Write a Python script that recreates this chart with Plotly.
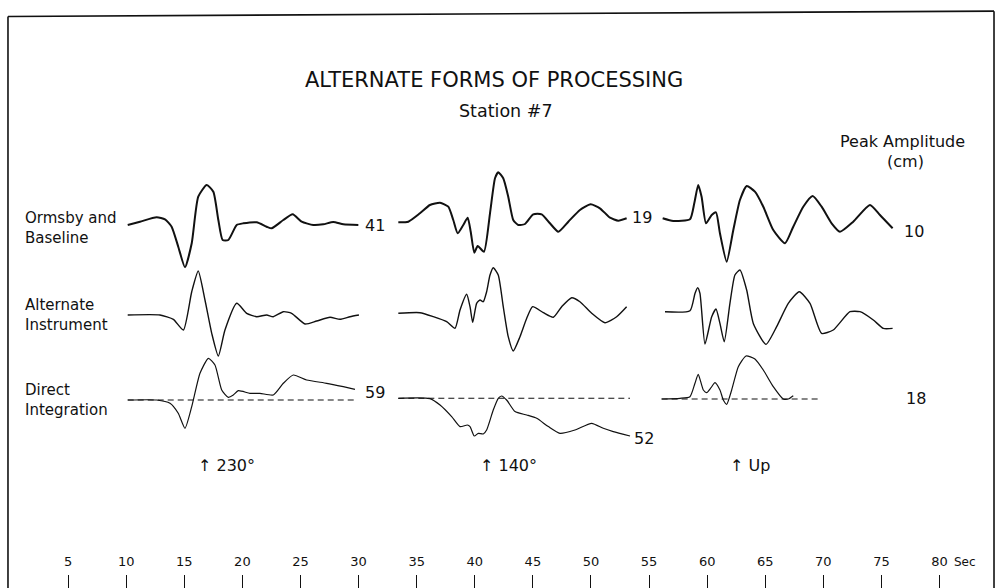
import plotly.graph_objects as go

# ---- time axis (seconds) ----
tick_seconds = [5, 10, 15, 20, 25, 30, 35, 40, 45, 50, 55, 60, 65, 70, 75, 80]

# ---- component headings and peak amplitudes (cm) ----
components = ["230°", "140°", "Up"]
peak_ormsby = [41, 19, 10]
peak_direct = [59, 52, 18]

# ---- Ormsby and Baseline ----
t_ormsby_230 = [10.13, 11.19, 12.62, 13.34, 13.91, 14.48, 15.06, 15.64, 16.2, 16.93, 17.5, 17.93, 18.3,
                18.79, 19.51, 20.08, 21.23, 22.09, 22.52, 23.52, 24.33, 25.1, 26.1, 26.96, 27.82, 28.69, 29.98]
a_ormsby_230 = [0, 3.3, 7.7, 5.7, -1.7, -21.7, -42.3, -18.3, 28.3, 40, 33.3, 5, -15,
                -15, 0, 1.7, 2.7, -1.7, -3.3, 5, 10.7, 3.3, 0, 0.7, 3, 0.7, 0]
t_ormsby_140 = [33.42, 34.28, 35.28, 36.14, 37.01, 37.72, 38.15, 38.53, 39.01, 39.39, 39.65, 39.96, 40.25,
                40.79, 41.31, 41.74, 42.02, 42.45, 42.88, 43.31, 43.74, 44.32, 45.03, 45.76, 46.47, 47.19,
                48.05, 49.05, 49.97, 50.77, 51.64, 52.35, 53.07]
a_ormsby_140 = [-0.3, 0.3, 8.7, 17, 19.3, 15.3, 2, -11.3, -3, 4.3, -9.7, -30.7, -24,
                -29.7, 8.7, 43.7, 49.7, 43.7, 25.3, 2, -3, -2, 7.7, 7.7, -1.3, -9.7,
                0.3, 12, 17.7, 13.7, 4.3, 1.3, 3.7]
t_ormsby_up = [56.17, 57.08, 58.52, 58.89, 59.23, 59.52, 59.9, 60.39, 60.76, 61.1, 61.68, 62.25, 62.82,
               63.4, 64.11, 64.83, 65.69, 66.7, 67.41, 68.27, 69.08, 69.85, 70.71, 71.43, 72.57, 74.01,
               74.87, 75.96]
a_ormsby_up = [0.7, -2, -0.3, 15.7, 34, 22.3, -4.3, 4, 6.7, -14.3, -42.7, -11, 19,
               33, 27.3, 12.3, -11, -24.3, -7.7, 12.3, 23, 12.3, -4.3, -12.7, -2.7, 14,
               4, -9.3]

# ---- Alternate Instrument ----
t_alt_230 = [10.13, 12.91, 14.06, 14.92, 15.64, 16.2, 16.78, 17.36, 17.93, 18.5, 19.51, 20.37, 21.23,
             22.09, 22.66, 23.52, 24.24, 25.39, 26.39, 27.54, 28.4, 29.26, 30.03]
a_alt_230 = [0, 0, -4.3, -15, 23.3, 44, 15, -18.3, -41, -15, 11.7, 1.7, -1.7,
             0, -1.7, 3.3, 1.7, -9, -6, -2.3, -4.3, -1.7, 0]
t_alt_140 = [33.42, 35.28, 36.43, 37.58, 38.3, 38.73, 39.3, 39.59, 39.82, 40.16, 40.45, 40.73, 41.02,
             41.31, 41.59, 42.02, 42.45, 42.88, 43.31, 43.89, 44.47, 44.98, 45.9, 46.76, 47.48, 48.34,
             49.05, 50.06, 51.2, 52.21, 53.07]
a_alt_140 = [-0.3, 0.3, -3.7, -8.7, -15.3, 3, 18.7, 6.3, -9.3, 9.7, 13, 11.3, 21.3,
             38, 45.3, 38, 6.3, -23.7, -38, -23.7, -5.3, 6.3, 0.3, -4.3, 6.3, 15.3,
             11.3, -0.3, -9.7, -3.7, 6.3]
t_alt_up = [56.37, 58.52, 58.95, 59.18, 59.38, 59.81, 60.39, 60.76, 61.1, 61.47, 61.96, 62.39, 62.82,
            63.4, 63.97, 65.06, 65.98, 66.98, 67.93, 68.85, 69.85, 70.85, 72.29, 73.15, 74.3, 75.16, 75.96]
a_alt_up = [0, 1, 18.3, 24, 18.3, -32.3, -5, 2.7, -11.7, -30, 8.3, 36.7, 41.7,
            21.7, -11.7, -32.7, -15, 8.3, 20, 8.3, -21.7, -18.3, 0, 0, -8.3, -16.7, -16.7]

# ---- Direct Integration ----
t_direct_230 = [10.13, 12.62, 13.77, 14.48, 15.06, 15.64, 16.35, 17.07, 17.64, 18.22, 18.79, 19.22, 19.65,
                20.65, 21.51, 22.66, 23.52, 24.38, 25.53, 27.25, 28.68, 29.69]
a_direct_230 = [0, 0, -3.3, -13.3, -28.3, -6.7, 26.7, 41.7, 35, 10, 2.7, 5, 9.3,
                6.7, 6.7, 5, 16.7, 25, 20, 16.7, 13.3, 10.7]
t_direct_140 = [33.42, 36.14, 37.01, 38.01, 38.73, 39.36, 39.59, 39.96, 40.3, 40.73, 41.02, 41.59, 42.02,
                42.31, 42.74, 43.46, 44.47, 45.33, 46.33, 47.33, 48.62, 50.06, 51.06, 51.92, 53.36]
a_direct_140 = [0, -0.3, -6.7, -18.3, -28.3, -26.7, -28.3, -37.7, -35, -35.7, -31.7, -11.7, 0,
                2.3, -1.7, -13.3, -16.7, -20, -28.3, -35, -31.7, -25, -30, -33.3, -37.7]
t_direct_up = [56.08, 57.66, 58.52, 58.95, 59.23, 59.67, 59.96, 60.33, 60.67, 61.1, 61.39, 61.68, 62.11,
               62.68, 63.34, 64.11, 64.83, 65.69, 66.55, 66.98, 67.41]
a_direct_up = [0, 0.7, 2.3, 15.7, 24.7, 9, 6.3, 11.3, 16.3, 9, -1, -5.3, 9,
               32.3, 43, 40, 29, 12.3, 0, 0, 3.3]
# zero lines drawn under the integrated records (start, end in seconds)
zero_spans = [(10.13, 29.69), (33.42, 53.36), (56.08, 69.71)]

# ---- layout: vertical position of each record's zero level ----
rows = {
    "ormsby": [363, 366, 369],
    "alt": [273, 275, 276.3],
    "direct": [188, 189.7, 189],
}
widths = {"ormsby": 2.0, "alt": 1.4, "direct": 1.2}
INK = "#111111"
FONT = "DejaVu Sans"

records = {
    "ormsby": [(t_ormsby_230, a_ormsby_230), (t_ormsby_140, a_ormsby_140), (t_ormsby_up, a_ormsby_up)],
    "alt": [(t_alt_230, a_alt_230), (t_alt_140, a_alt_140), (t_alt_up, a_alt_up)],
    "direct": [(t_direct_230, a_direct_230), (t_direct_140, a_direct_140), (t_direct_up, a_direct_up)],
}

fig = go.Figure()

# dashed zero lines for the direct-integration records
for (t0, t1), base in zip(zero_spans, rows["direct"]):
    fig.add_trace(go.Scatter(x=[t0, t1], y=[base, base], mode="lines",
                             line=dict(color=INK, width=1.1, dash="6px,4px"),
                             hoverinfo="skip", showlegend=False))

for key, recs in records.items():
    for (t, a), base in zip(recs, rows[key]):
        fig.add_trace(go.Scatter(x=t, y=[base + v for v in a], mode="lines",
                                 line=dict(color=INK, width=widths[key], shape="spline", smoothing=0.55),
                                 hoverinfo="skip", showlegend=False))

ann = []


def text(x, y, s, size, xanchor="center", align="center"):
    ann.append(dict(x=x, y=y, xref="x", yref="y", text=s, showarrow=False,
                    xanchor=xanchor, yanchor="middle", align=align,
                    font=dict(family=FONT, size=size, color=INK)))


# titles
text(41.65, 508, "ALTERNATE FORMS OF PROCESSING", 21)
text(42.7, 477, "Station #7", 17.5)
text(76.8, 447, "Peak Amplitude", 16)
text(77.1, 427, "(cm)", 16)

# record names
text(1.12, 360, "Ormsby and<br>Baseline", 15, xanchor="left", align="left")
text(1.12, 273, "Alternate<br>Instrument", 15, xanchor="left", align="left")
text(1.12, 188, "Direct<br>Integration", 15, xanchor="left", align="left")

# peak amplitudes
ormsby_pos = [(30.35, 363), (53.4, 371), (76.8, 357)]
direct_pos = [(30.35, 196), (53.5, 150), (76.9, 190)]
for (x, y), v in zip(ormsby_pos, peak_ormsby):
    text(x, y, str(v), 16, xanchor="left")
for (x, y), v in zip(direct_pos, peak_direct):
    text(x, y, str(v), 16, xanchor="left")

# component headings
for x, c in zip([18.6, 42.9, 63.7], components):
    text(x, 123, "↑ " + c, 16)

# unit label on the time scale
text(81.1, 26, "Sec", 12, xanchor="left")

# drawn border
frame = dict(color=INK, width=1.6)
shapes = [
    dict(type="line", xref="paper", yref="paper", x0=0.008, y0=0.972, x1=0.008, y1=0, line=frame),
    dict(type="line", xref="paper", yref="paper", x0=0.008, y0=0.972, x1=0.996, y1=0.981, line=frame),
    dict(type="line", xref="paper", yref="paper", x0=0.996, y0=0.981, x1=0.996, y1=0, line=frame),
]

fig.update_layout(
    width=998, height=588,
    margin=dict(l=0, r=0, t=0, b=0),
    paper_bgcolor="white", plot_bgcolor="white",
    annotations=ann, shapes=shapes,
    xaxis=dict(range=[-0.861, 85.03], showgrid=False, zeroline=False, showline=False,
               tickvals=tick_seconds, ticktext=[str(v) for v in tick_seconds],
               ticks="inside", ticklen=13, tickwidth=1.4, tickcolor=INK,
               ticklabelposition="inside", ticklabelstandoff=6,
               tickfont=dict(family=FONT, size=13, color=INK)),
    yaxis=dict(range=[0, 588], visible=False),
)

fig.write_html("out.html")
